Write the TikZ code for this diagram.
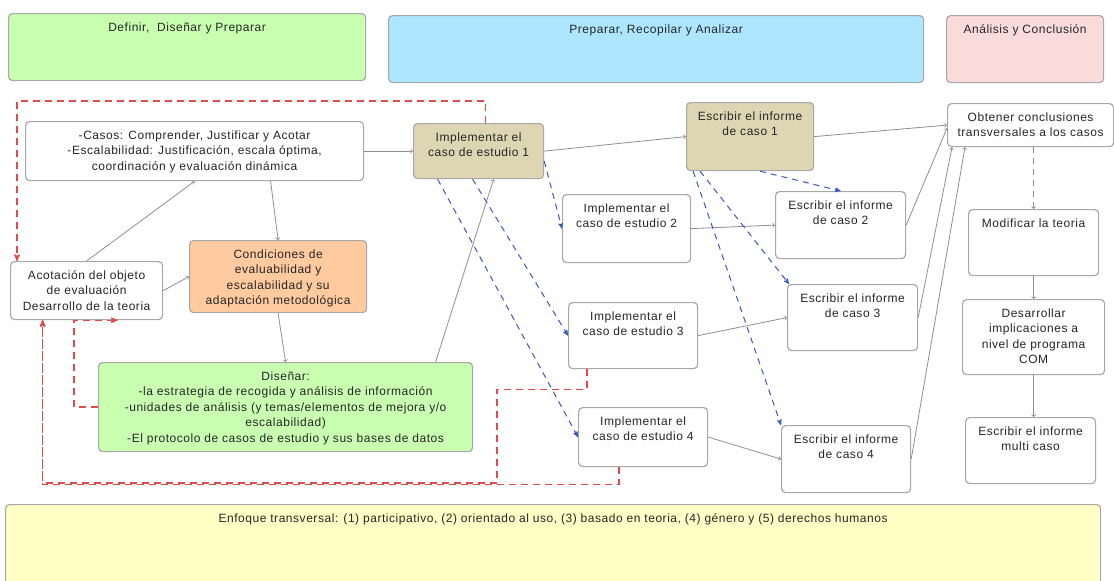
\documentclass[tikz,border=0pt]{standalone}
\usepackage{fontspec}
\setmainfont[LetterSpace=4.5]{Liberation Sans}
\usetikzlibrary{arrows}

\definecolor{hdgreen}{HTML}{C9FFB1}
\definecolor{hdblue}{HTML}{ADE6FE}
\definecolor{hdpink}{HTML}{F9DBDC}
\definecolor{crossyellow}{HTML}{FFFFC6}
\definecolor{casetan}{HTML}{DED5B3}
\definecolor{condorange}{HTML}{FFCA9F}
\definecolor{boxgray}{HTML}{A8A8A8}
\definecolor{linkgray}{HTML}{8E8E8E}
\definecolor{loopred}{HTML}{E24A4A}
\definecolor{flowblue}{HTML}{3858B8}

\newcommand{\boxtext}[3]{\parbox[c][#2pt][t]{#1pt}{\centering\vspace*{7pt}\strut#3\par}}

\begin{document}
\begin{tikzpicture}[x=1pt,y=-1pt,>=stealth',font=\fontsize{12}{15.5}\selectfont,text=black!85]
\tikzstyle{box}=[draw=boxgray,line width=1.2pt,rounded corners=4pt,inner sep=0pt,anchor=north west,fill=white]
\tikzstyle{link}=[draw=linkgray,line width=0.8pt,-to]
\tikzstyle{feed}=[draw=loopred,line width=1.3pt,dash pattern=on 7pt off 5pt,->]
\tikzstyle{spread}=[draw=flowblue,line width=1pt,dash pattern=on 6pt off 5pt,->]
\useasboundingbox (0,0) rectangle (1114,581);

% fases
\node[box,fill=hdgreen] (defin) at (8,13) {\boxtext{357}{67}{Definir,~ Diseñar y Preparar}};
\node[box,fill=hdblue] (recop) at (388,15) {\boxtext{535}{67}{Preparar, Recopilar y Analizar}};
\node[box,fill=hdpink] (concl) at (946,15) {\boxtext{157}{67}{Análisis y Conclusión}};
\node[box,fill=crossyellow] (enfoque) at (5,504) {\boxtext{1095}{90}{Enfoque transversal: (1) participativo, (2) orientado al uso, (3) basado en teoria, (4) género y (5) derechos humanos}};

% definir y disenar
\node[box] (casos) at (25,121) {\boxtext{338}{59}{-Casos: Comprender, Justificar y Acotar\\-Escalabilidad: Justificación, escala óptima,\\coordinación y evaluación dinámica}};
\node[box] (acot) at (10,261) {\boxtext{152}{58}{Acotación del objeto\\de evaluación\\Desarrollo de la teoria}};
\node[box,fill=condorange] (cond) at (189,240) {\boxtext{177}{72}{Condiciones de\\evaluabilidad y\\escalabilidad y su\\adaptación metodológica}};
\node[box,fill=hdgreen] (disenar) at (98,362) {\boxtext{374}{89}{Diseñar:\\-la estrategia de recogida y análisis de información\\-unidades de análisis (y temas/elementos de mejora y/o\\escalabilidad)\\-El protocolo de casos de estudio y sus bases de datos}};

% casos de estudio
\node[box,fill=casetan] (impl1) at (413,123) {\boxtext{130}{55}{Implementar el\\caso de estudio 1}};
\node[box] (impl2) at (562,194) {\boxtext{128}{68}{Implementar el\\caso de estudio 2}};
\node[box] (impl3) at (568,302) {\boxtext{129}{66}{Implementar el\\caso de estudio 3}};
\node[box] (impl4) at (578,407) {\boxtext{129}{59}{Implementar el\\caso de estudio 4}};
\node[box,fill=casetan] (escr1) at (686,102) {\boxtext{127}{68}{Escribir el informe\\de caso 1}};
\node[box] (escr2) at (775,191) {\boxtext{130}{67}{Escribir el informe\\de caso 2}};
\node[box] (escr3) at (787,284) {\boxtext{130}{66}{Escribir el informe\\de caso 3}};
\node[box] (escr4) at (781,425) {\boxtext{129}{67}{Escribir el informe\\de caso 4}};

% conclusion
\node[box] (obtener) at (947,103) {\boxtext{166}{43}{Obtener conclusiones\\transversales a los casos}};
\node[box] (modificar) at (968,209) {\boxtext{130}{66}{Modificar la teoria}};
\node[box] (desarrollar) at (962,299) {\boxtext{142}{75}{Desarrollar\\implicaciones a\\nivel de programa\\COM}};
\node[box] (multi) at (965,417) {\boxtext{130}{66}{Escribir el informe\\multi caso}};

\coordinate (loopcorner) at (497,483);

\path[every edge/.style=link] (casos.east) edge (impl1.west)
      (acot.north) edge (casos.south)
      ([xshift=76pt]casos.south) edge (cond.north)
      (acot.east) edge (cond.west)
      (cond.south) edge (disenar.north)
      ([xshift=150pt]disenar.north) edge ([xshift=15pt]impl1.south)
      (impl1.east) edge (escr1.west)
      (impl2.east) edge (escr2.west)
      (impl3.east) edge (escr3.west)
      (impl4.east) edge (escr4.west)
      (escr1.east) edge (obtener.west)
      (escr2.east) edge ([yshift=-3pt]obtener.west)
      (escr3.east) edge ([xshift=5pt]obtener.south west)
      (escr4.east) edge ([xshift=18pt]obtener.south west)
      (modificar.south) edge (desarrollar.north)
      (desarrollar.south) edge (desarrollar.south |- multi.north);
\draw[link,dash pattern=on 6pt off 5pt] (obtener.south -| modificar.north) -- (modificar.north);

\path[every edge/.style=spread] ([yshift=-10pt]impl1.east) edge (impl2.west)
      ([xshift=-6pt]impl1.south) edge (impl3.west)
      ([xshift=-41pt]impl1.south) edge (impl4.west)
      ([xshift=10pt]escr1.south) edge (escr2.north)
      ([xshift=-50pt]escr1.south) edge ([xshift=2pt]escr3.north west)
      ([xshift=-57pt]escr1.south) edge (escr4.north west);

\draw[feed] ([xshift=7pt]impl1.north) -- ++(0,-22) -| ([xshift=7pt]acot.north west);
\draw[feed] (disenar.west) -- ++(-24,0) |- ([xshift=31pt]acot.south);
\draw[feed] ([xshift=-46pt]impl3.south) -- ++(0,20) -| (loopcorner) -| ([xshift=-44pt]acot.south);
\draw[feed] ([xshift=-24pt]impl4.south) -- ++(0,17) -| ([xshift=-44pt]acot.south);
\end{tikzpicture}
\end{document}
